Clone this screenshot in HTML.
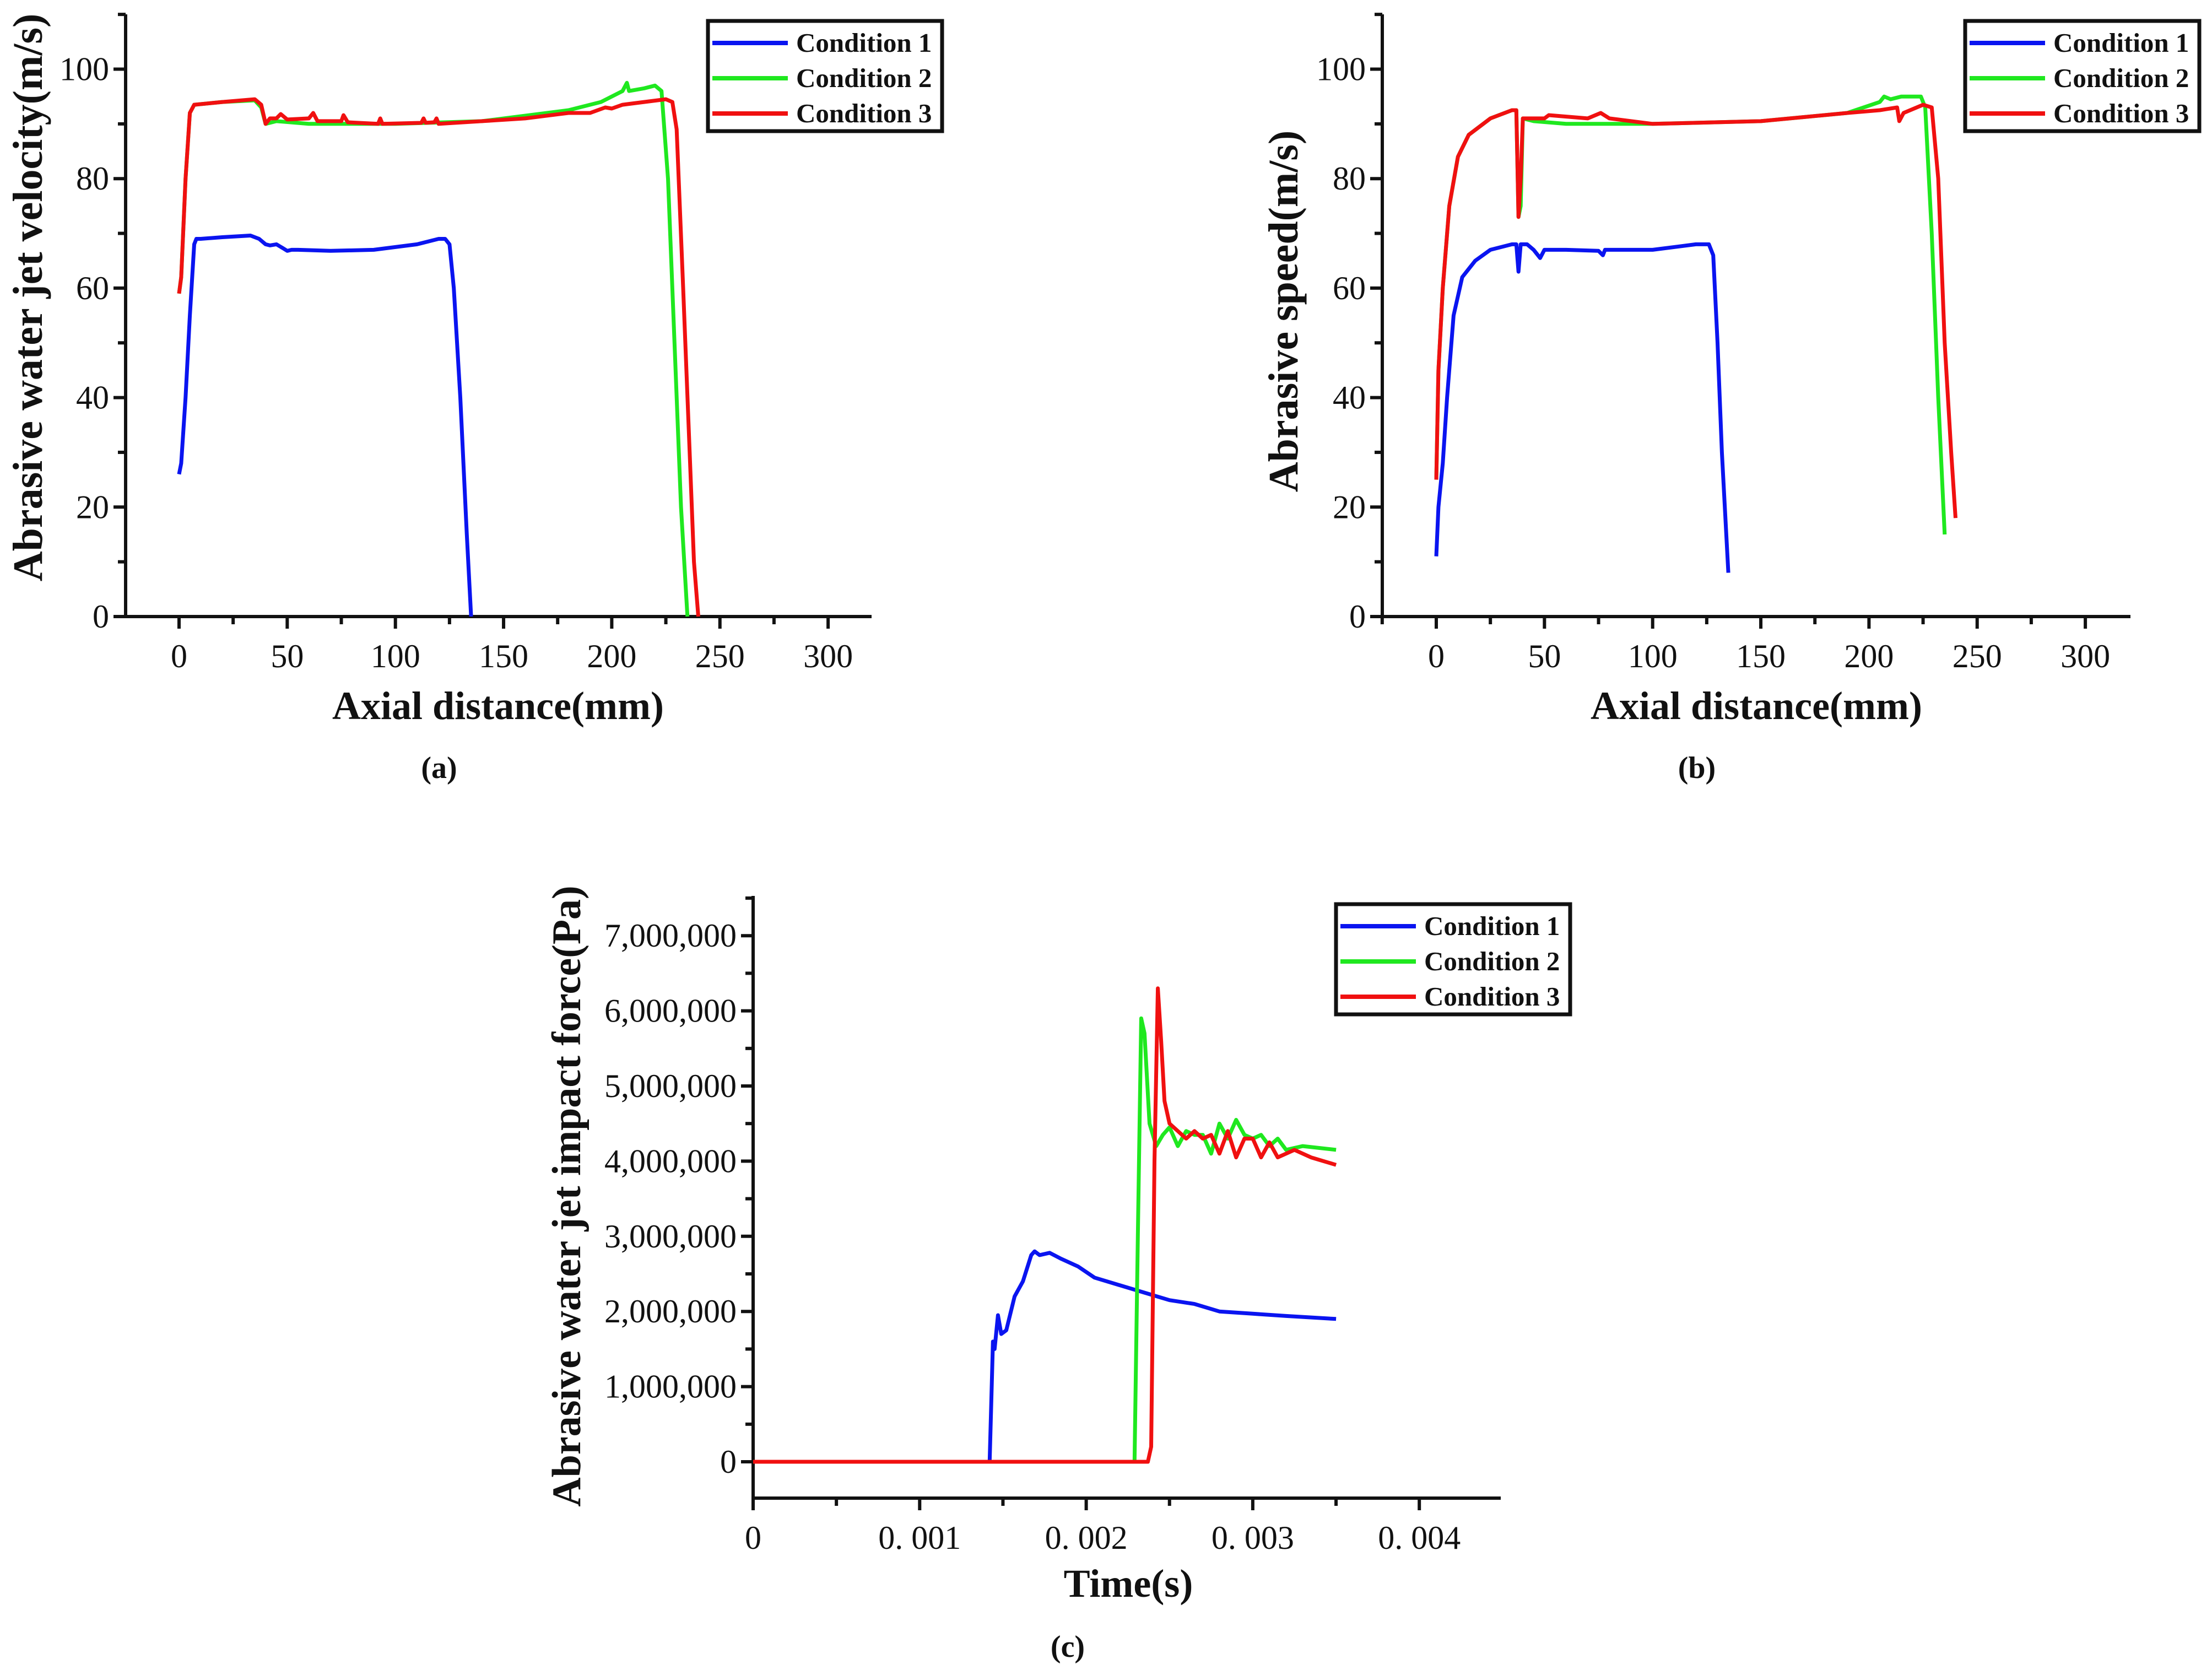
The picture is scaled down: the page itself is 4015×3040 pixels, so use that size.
<!DOCTYPE html>
<html><head><meta charset="utf-8"><style>
html,body{margin:0;padding:0;background:#fff}
svg{display:block}
text{font-family:"Liberation Serif",serif;fill:#111}
</style></head><body>
<svg id="fig" width="4015" height="3040" viewBox="0 0 4015 3040" xmlns="http://www.w3.org/2000/svg"></svg>
<script>
// ---------- Panel (a) data ----------
const aC1x=[0,1,3,5,7,8,10,20,33,37,40,42,45,48,50,52,55,70,90,110,120,123,125,127,130,133,135];
const aC1y=[26,28,40,55,68,69,69,69.3,69.6,69,68,67.8,68,67.3,66.8,67,67,66.8,67,68,69,69,68,60,40,15,0];
const aC2x=[0,1,3,5,7,20,35,38,40,45,60,100,140,180,195,205,207,208,215,220,223,226,229,232,235];
const aC2y=[59,62,80,92,93.5,94,94.3,93,90,90.5,90,90,90.5,92.5,94,96,97.5,96,96.5,97,96,80,50,20,0];
const aC3x=[0,1,3,5,7,20,35,38,40,42,45,47,50,60,62,64,75,76,78,92,93,94,112,113,114,118,119,120,140,160,180,190,197,200,205,225,228,230,233,236,238,240];
const aC3y=[59,62,80,92,93.5,94,94.5,93.5,90,91,91,91.8,90.8,91,92,90.5,90.5,91.6,90.3,90,91,90,90.2,91,90.2,90.3,91,90,90.5,91,92,92,93,92.8,93.5,94.5,94,89,60,30,10,0];
// ---------- Panel (b) data ----------
const bC1x=[0,1,3,5,8,12,18,25,35,37,38,39,42,45,48,50,60,75,77,78,100,120,126,128,130,132,135];
const bC1y=[11,20,28,40,55,62,65,67,68,68,63,68,68,67,65.5,67,67,66.8,66,67,67,68,68,66,50,30,8];
const bC2x=[0,1,3,6,10,15,25,35,37,38,39,40,45,60,100,150,190,205,207,210,215,224,226,229,232,235];
const bC2y=[25,45,60,75,84,88,91,92.5,92.5,73,75,91,90.5,90,90,90.5,92,94,95,94.5,95,95,93,70,40,15];
const bC3x=[0,1,3,6,10,15,25,35,37,38,39,40,50,52,70,76,80,100,150,190,205,213,214,216,225,229,232,235,238,240];
const bC3y=[25,45,60,75,84,88,91,92.5,92.5,73,80,91,91,91.6,91,92,91,90,90.5,92,92.5,93,90.5,92,93.5,93,80,50,30,18];
// ---------- Panel (c) data (time in ms, force in units of 1e6 Pa) ----------
const cC1x=[0,1.42,1.44,1.45,1.47,1.49,1.52,1.57,1.62,1.67,1.69,1.72,1.78,1.85,1.95,2.05,2.2,2.35,2.5,2.65,2.8,3.0,3.2,3.5];
const cC1y=[0,0,1.6,1.5,1.95,1.7,1.75,2.2,2.4,2.75,2.8,2.75,2.78,2.7,2.6,2.45,2.35,2.25,2.15,2.1,2.0,1.97,1.94,1.9];
const cC2x=[0,2.29,2.31,2.33,2.35,2.38,2.42,2.46,2.5,2.55,2.6,2.65,2.7,2.75,2.8,2.85,2.9,2.95,3.0,3.05,3.1,3.15,3.2,3.3,3.5];
const cC2y=[0,0,3,5.9,5.7,4.5,4.2,4.35,4.45,4.2,4.4,4.35,4.35,4.1,4.5,4.3,4.55,4.35,4.3,4.35,4.2,4.3,4.15,4.2,4.15];
const cC3x=[0,2.37,2.39,2.41,2.43,2.45,2.47,2.5,2.55,2.6,2.65,2.7,2.75,2.8,2.85,2.9,2.95,3.0,3.05,3.1,3.15,3.25,3.35,3.5];
const cC3y=[0,0,0.2,4,6.3,5.6,4.8,4.5,4.4,4.3,4.4,4.3,4.35,4.1,4.4,4.05,4.3,4.3,4.05,4.25,4.05,4.15,4.05,3.95];
// tick labels
const abXTicks=[0,50,100,150,200,250,300];
const abYTicks=[0,20,40,60,80,100];
const cXTicks=[0,0.001,0.002,0.003,0.004];
const cXLabels=["0","0. 001","0. 002","0. 003","0. 004"];
const cYTicks=[0,1,2,3,4,5,6,7];
const cYLabels=["0","1,000,000","2,000,000","3,000,000","4,000,000","5,000,000","6,000,000","7,000,000"];
const legendLabels=["Condition 1","Condition 2","Condition 3"];
const colors=["#0a14f0","#1fe81f","#f01010"];

const svg=document.getElementById('fig');
const NS='http://www.w3.org/2000/svg';
function mk(tag,attrs,parent){const e=document.createElementNS(NS,tag);for(const k in attrs)e.setAttribute(k,attrs[k]);(parent||svg).appendChild(e);return e;}

function panel(cfg){
  const g=mk('g',{});
  
  
  const sx=v=>cfg.x0px+(v-cfg.xv0)*cfg.xs;
  const sy=v=>cfg.y0px-(v-cfg.yv0)*cfg.ys;
  const ax=mk('path',{d:`M${cfg.L},${cfg.T} V${cfg.B} H${cfg.R}`,fill:'none',stroke:'#111','stroke-width':6},g);
  
  
  for(let v=cfg.xMin;v<=cfg.xMax+1e-9;v+=cfg.xMinor){
    const X=sx(v); if(X<cfg.L-1||X>cfg.R+1) continue;
    const major=Math.abs(Math.round(v/cfg.xMajor)*cfg.xMajor-v)<1e-9;
    const t=mk('line',{x1:X,x2:X,y1:cfg.B,y2:cfg.B+(major?22:14),stroke:'#111','stroke-width':6},g);
    
    
  }
  for(let v=cfg.yMin;v<=cfg.yMax+1e-9;v+=cfg.yMinor){
    const Y=sy(v); if(Y<cfg.T-1||Y>cfg.B+1) continue;
    const major=Math.abs(Math.round(v/cfg.yMajor)*cfg.yMajor-v)<1e-9;
    const t=mk('line',{x1:cfg.L-(major?22:14),x2:cfg.L,y1:Y,y2:Y,stroke:'#111','stroke-width':6},g);
    
    
  }
  cfg.xTicks.forEach((v,i)=>{
    const t=mk('text',{x:sx(v),y:cfg.B+92,'text-anchor':'middle','font-size':60},g);
    t.textContent=cfg.xLabels[i];
    
    
  });
  cfg.yTicks.forEach((v,i)=>{
    const t=mk('text',{x:cfg.L-30,y:sy(v)+20,'text-anchor':'end','font-size':60},g);
    t.textContent=cfg.yLabels[i];
    
    
  });
  cfg.series.forEach((s,i)=>{
    const d=s[0].map((x,j)=>(j?'L':'M')+sx(x).toFixed(1)+','+sy(s[1][j]).toFixed(1)).join(' ');
    const p=mk('path',{d:d,fill:'none',stroke:colors[i],'stroke-width':7,'stroke-linejoin':'round'},g);
    
    
  });
  const lg=mk('g',{},g);
  
  
  const lb=mk('rect',{x:cfg.legX,y:cfg.legY,width:425,height:200,fill:'#fff',stroke:'#111','stroke-width':7},lg);
  
  
  legendLabels.forEach((lab,i)=>{
    const yy=cfg.legY+40+i*64;
    const ln=mk('line',{x1:cfg.legX+8,x2:cfg.legX+145,y1:yy,y2:yy,stroke:colors[i],'stroke-width':8},lg);
    
    
    const t=mk('text',{x:cfg.legX+160,y:yy+16,'font-size':49,'font-weight':'bold'},lg);
    t.textContent=lab;
    
    
  });
  const xt=mk('text',{x:cfg.xtX,y:cfg.xtY,'text-anchor':'middle','font-size':72,'font-weight':'bold'},g);
  xt.textContent=cfg.xTitle;
  
  
  const yt=mk('text',{x:0,y:0,'text-anchor':'middle','font-size':cfg.ytSize,'font-weight':'bold',transform:`translate(${cfg.ytX},${cfg.ytY}) rotate(-90)`},g);
  yt.textContent=cfg.yTitle;
  
  
  const cap=mk('text',{x:cfg.capX,y:cfg.capY,'text-anchor':'middle','font-size':56,'font-weight':'bold'},g);
  cap.textContent=cfg.cap;
  
  
}

const abY=abYTicks.map(String), abX=abXTicks.map(String);
panel({name:'panel-a',L:228,T:26,B:1119,R:1582,x0px:325,xv0:0,xs:3.927,y0px:1119,yv0:0,ys:9.935,
  xMin:-25,xMax:325,xMinor:25,xMajor:50,yMin:0,yMax:110,yMinor:10,yMajor:20,
  xTicks:abXTicks,xLabels:abX,yTicks:abYTicks,yLabels:abY,
  series:[[aC1x,aC1y],[aC2x,aC2y],[aC3x,aC3y]],legX:1285,legY:38,
  xTitle:'Axial distance(mm)',xtX:904,xtY:1305,yTitle:'Abrasive water jet velocity(m/s)',ytSize:76,ytX:76,ytY:540,
  cap:'(a)',capX:797,capY:1412});
panel({name:'panel-b',L:2509,T:26,B:1119,R:3867,x0px:2607,xv0:0,xs:3.927,y0px:1119,yv0:0,ys:9.935,
  xMin:-25,xMax:325,xMinor:25,xMajor:50,yMin:0,yMax:110,yMinor:10,yMajor:20,
  xTicks:abXTicks,xLabels:abX,yTicks:abYTicks,yLabels:abY,
  series:[[bC1x,bC1y],[bC2x,bC2y],[bC3x,bC3y]],legX:3567,legY:38,
  xTitle:'Axial distance(mm)',xtX:3188,xtY:1305,yTitle:'Abrasive speed(m/s)',ytSize:76,ytX:2355,ytY:565,
  cap:'(b)',capX:3080,capY:1412});
panel({name:'panel-c',L:1367,T:1626,B:2719,R:2724,x0px:1367,xv0:0,xs:302.3,y0px:2653,yv0:0,ys:136.4,
  xMin:0,xMax:4.5,xMinor:0.5,xMajor:1,yMin:-0.5,yMax:7.5,yMinor:0.5,yMajor:1,
  xTicks:cXTicks.map(v=>v*1000),xLabels:cXLabels,yTicks:cYTicks,yLabels:cYLabels,
  series:[[cC1x,cC1y],[cC2x,cC2y],[cC3x,cC3y]],legX:2425,legY:1641,
  xTitle:'Time(s)',xtX:2048,xtY:2898,yTitle:'Abrasive water jet impact force(Pa)',ytSize:74,ytX:1053,ytY:2171,
  cap:'(c)',capX:1938,capY:3007});
</script>
</body></html>
